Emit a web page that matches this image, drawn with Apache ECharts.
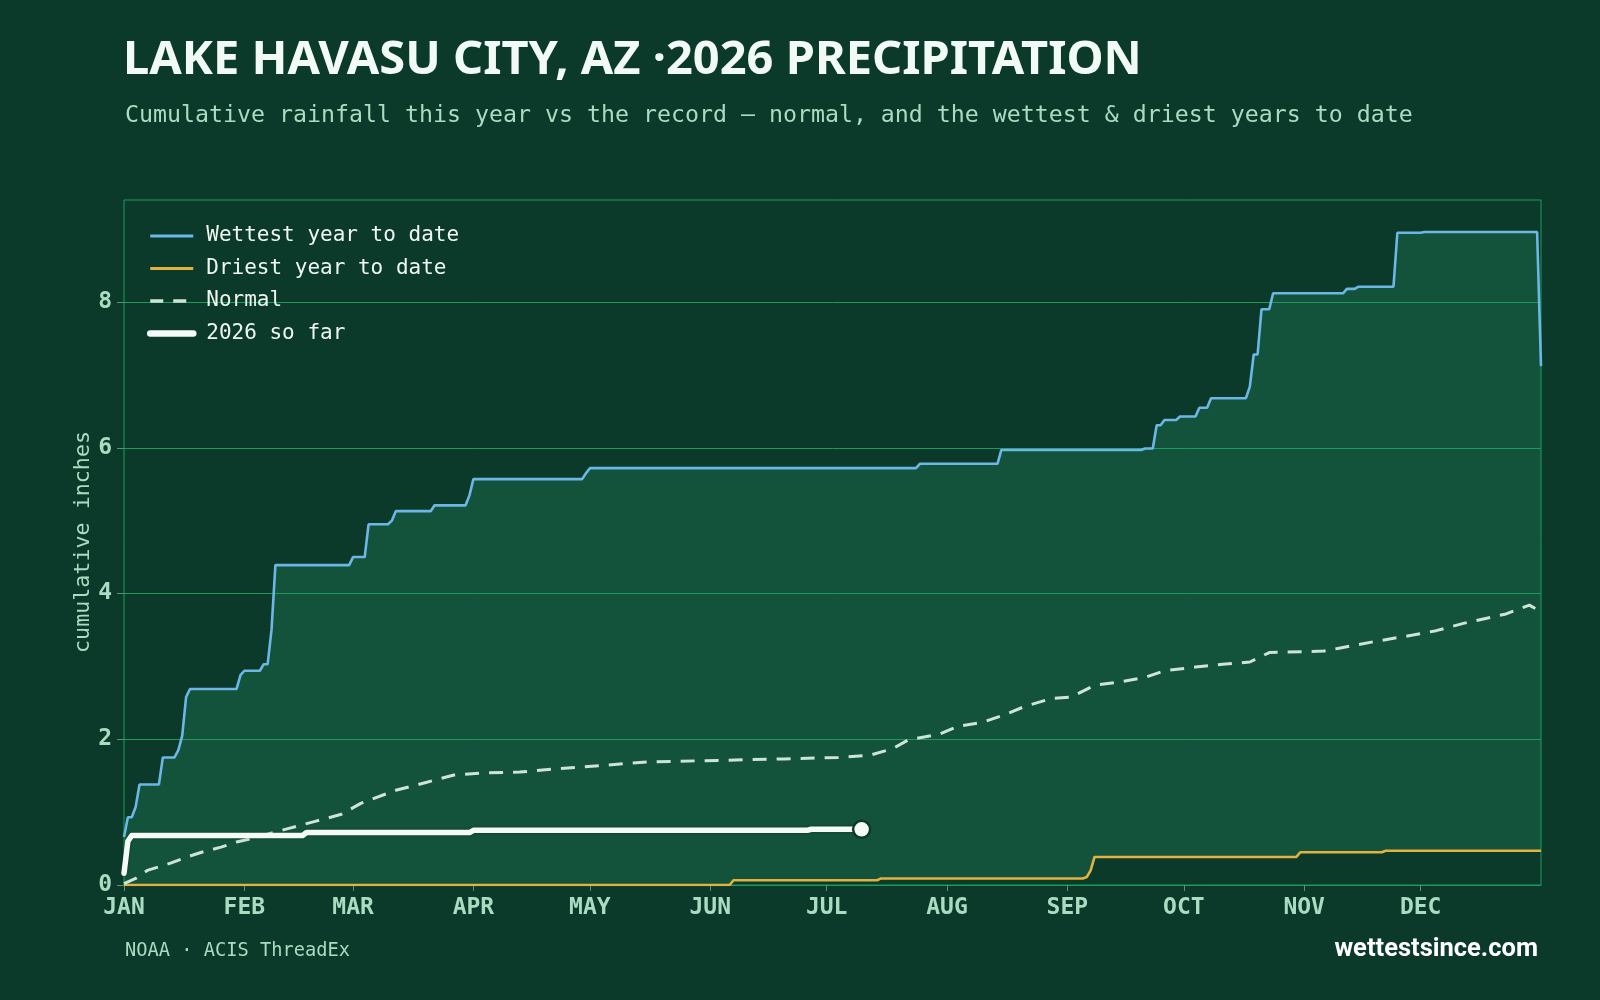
<!DOCTYPE html>
<html>
<head>
<meta charset="utf-8">
<script src="https://cdn.jsdelivr.net/npm/echarts@6/dist/echarts.min.js"></script>
<style>
html,body{margin:0;padding:0;background:#0c3a2a;}
#chart{width:1600px;height:1000px;}
</style>
</head>
<body>
<div id="chart"></div>
<script>
// ---- data (day of year, cumulative inches) ----
const monthStarts = [0, 31, 59, 90, 120, 151, 181, 212, 243, 273, 304, 334];
const monthLabels = ['JAN','FEB','MAR','APR','MAY','JUN','JUL','AUG','SEP','OCT','NOV','DEC'];
const yTicks = [0, 2, 4, 6, 8];

const wettest = [
  [0,0.66],[1,0.93],[2,0.93],[3,1.07],[4,1.38],[9,1.38],[10,1.75],[13,1.75],[14,1.85],[15,2.05],
  [16,2.58],[17,2.69],[29,2.69],[30,2.88],[31,2.94],[35,2.94],[36,3.03],[37,3.03],[38,3.5],[39,4.39],
  [58,4.39],[59,4.50],[62,4.50],[63,4.95],[68,4.95],[69,5.0],[70,5.13],[79,5.13],[80,5.21],[88,5.21],
  [89,5.35],[90,5.57],[118,5.57],[119,5.65],[120,5.72],[204,5.72],[205,5.78],[225,5.78],[226,5.97],
  [262,5.97],[263,5.99],[265,5.99],[266,6.31],[267,6.31],[268,6.38],[271,6.38],[272,6.43],[276,6.43],
  [277,6.55],[279,6.55],[280,6.68],[289,6.68],[290,6.84],[291,7.28],[292,7.28],[293,7.90],[295,7.90],
  [296,8.12],[314,8.12],[315,8.18],[317,8.18],[318,8.21],[327,8.21],[328,8.95],[334,8.95],[335,8.96],
  [364,8.96],[365,7.12]
];
const driest = [
  [0,0],[156,0],[157,0.065],[194,0.065],[195,0.09],[247,0.09],[248,0.11],[249,0.2],[250,0.385],
  [302,0.385],[303,0.45],[324,0.45],[325,0.47],[365,0.47]
];
const normal = [
  [0,0.02],[3,0.09],[6,0.2],[12,0.3],[16,0.38],[20,0.45],[25,0.52],[29,0.59],[33,0.64],[42,0.77],
  [49,0.87],[56,0.97],[61,1.12],[70,1.3],[78,1.41],[85,1.51],[93,1.54],[102,1.55],[110,1.59],[123,1.64],
  [135,1.69],[153,1.71],[170,1.73],[184,1.75],[192,1.78],[198,1.87],[202,1.99],[210,2.07],[215,2.18],
  [221,2.23],[227,2.34],[232,2.45],[239,2.56],[244,2.58],[250,2.74],[257,2.79],[263,2.85],[268,2.94],
  [276,2.99],[283,3.03],[290,3.06],[295,3.19],[309,3.21],[313,3.25],[322,3.34],[332,3.43],[338,3.49],
  [345,3.59],[356,3.72],[362,3.84],[365,3.75]
];
const yr2026 = [
  [0,0.16],[1,0.6],[2,0.68],[46,0.68],[47,0.72],[89,0.72],[90,0.75],[176,0.75],[177,0.765],[190,0.765]
];

// ---- styles ----
const BG = '#0c3a2a', BAND = '#13523b', GRID = '#1f9a5f', MINT = '#a9dcc0';
const WET = '#6db7e6', DRY = '#e3b13f', NORMAL = '#cfe4d8', NOW = '#f4fbf7', TICK = '#5f8f78';
const MONO = '"DejaVu Sans Mono", monospace';
const SANS = '"Noto Sans", Roboto, sans-serif';
const SANS2 = 'Roboto, "Noto Sans", sans-serif';
const NOICON = { color: 'rgba(0,0,0,0)', borderWidth: 0, opacity: 0 };

const chart = echarts.init(document.getElementById('chart'), null, {renderer:'canvas'});
chart.setOption({
  backgroundColor: BG,
  animation: false,
  grid: { left: 124, right: 59, top: 200, bottom: 115, show: true, borderColor: GRID, borderWidth: 1, backgroundColor: 'transparent' },
  xAxis: {
    type: 'value', min: 0, max: 365,
    axisLine: { show: true, lineStyle: { color: GRID, width: 1 } },
    axisTick: { show: true, customValues: monthStarts, length: 6, lineStyle: { color: TICK } },
    axisLabel: {
      customValues: monthStarts, margin: 12,
      color: MINT, fontFamily: MONO, fontWeight: 'bold', fontSize: 23,
      formatter: v => monthLabels[monthStarts.indexOf(Math.round(v))] || ''
    },
    splitLine: { show: false }
  },
  yAxis: {
    type: 'value', min: 0, max: 9.4, interval: 2,
    axisLine: { show: false },
    axisTick: { show: true, customValues: yTicks, length: 7, lineStyle: { color: TICK } },
    axisLabel: { customValues: yTicks, margin: 12, color: MINT, fontFamily: MONO, fontWeight: 'bold', fontSize: 23 },
    splitLine: { show: true, lineStyle: { color: GRID, width: 1 } }
  },
  legend: {
    orient: 'vertical', left: 142, top: 220, selectedMode: false,
    itemWidth: 43, itemHeight: 14, itemGap: 10.5,
    itemStyle: NOICON,
    textStyle: { color: '#eef7f1', fontFamily: MONO, fontSize: 21, lineHeight: 22, padding: [0,0,0,8] },
    data: [
      { name: 'Wettest year to date', itemStyle: NOICON, lineStyle: { width: 3 } },
      { name: 'Driest year to date', itemStyle: NOICON, lineStyle: { width: 3 } },
      { name: 'Normal', itemStyle: NOICON, lineStyle: { width: 3.5, type: [13, 10] } },
      { name: '2026 so far', itemStyle: NOICON, lineStyle: { width: 6.5, cap: 'round' } }
    ]
  },
  graphic: [
    { type: 'text', left: 123, top: 37, style: { text: 'LAKE HAVASU CITY, AZ ·2026 PRECIPITATION', font: 'bold 47px ' + SANS, fill: '#f2faf5' } },
    { type: 'text', left: 125, top: 104, style: { text: 'Cumulative rainfall this year vs the record — normal, and the wettest & driest years to date', font: '23.25px ' + MONO, fill: MINT } },
    { type: 'text', left: 72, top: 431, rotation: Math.PI / 2, style: { text: 'cumulative inches', font: '21.7px ' + MONO, fill: MINT } },
    { type: 'text', left: 125, top: 942, style: { text: 'NOAA · ACIS ThreadEx', font: '18.7px ' + MONO, fill: MINT } },
    { type: 'text', right: 62, top: 937, style: { text: 'wettestsince.com', font: 'bold 25.5px ' + SANS2, fill: '#ffffff' } }
  ],
  series: [
    {
      type: 'custom', name: 'band', z: -1, silent: true, data: [[0, 0]],
      renderItem: (params, api) => {
        const pts = wettest.map(p => api.coord(p)).concat(driest.slice().reverse().map(p => api.coord(p)));
        return { type: 'polygon', shape: { points: pts }, style: { fill: BAND } };
      }
    },
    { type: 'line', name: 'Wettest year to date', data: wettest, symbol: 'none', z: 3,
      lineStyle: { color: WET, width: 2.6 }, itemStyle: { color: WET } },
    { type: 'line', name: 'Driest year to date', data: driest, symbol: 'none', z: 3,
      lineStyle: { color: DRY, width: 2.6 }, itemStyle: { color: DRY } },
    { type: 'line', name: 'Normal', data: normal, symbol: 'none', z: 3,
      lineStyle: { color: NORMAL, width: 3, type: [14, 10] }, itemStyle: { color: NORMAL } },
    { type: 'line', name: '2026 so far', data: yr2026, symbol: 'none', z: 4,
      lineStyle: { color: NOW, width: 5.5, cap: 'round', join: 'round', shadowColor: 'rgba(0,0,0,0.3)', shadowBlur: 3 },
      itemStyle: { color: NOW } },
    { type: 'scatter', name: 'latest', data: [yr2026[yr2026.length - 1]], z: 5, symbol: 'circle', symbolSize: 17,
      itemStyle: { color: NOW, opacity: 1, borderColor: BG, borderWidth: 2.5 } }
  ]
});
</script>
</body>
</html>
